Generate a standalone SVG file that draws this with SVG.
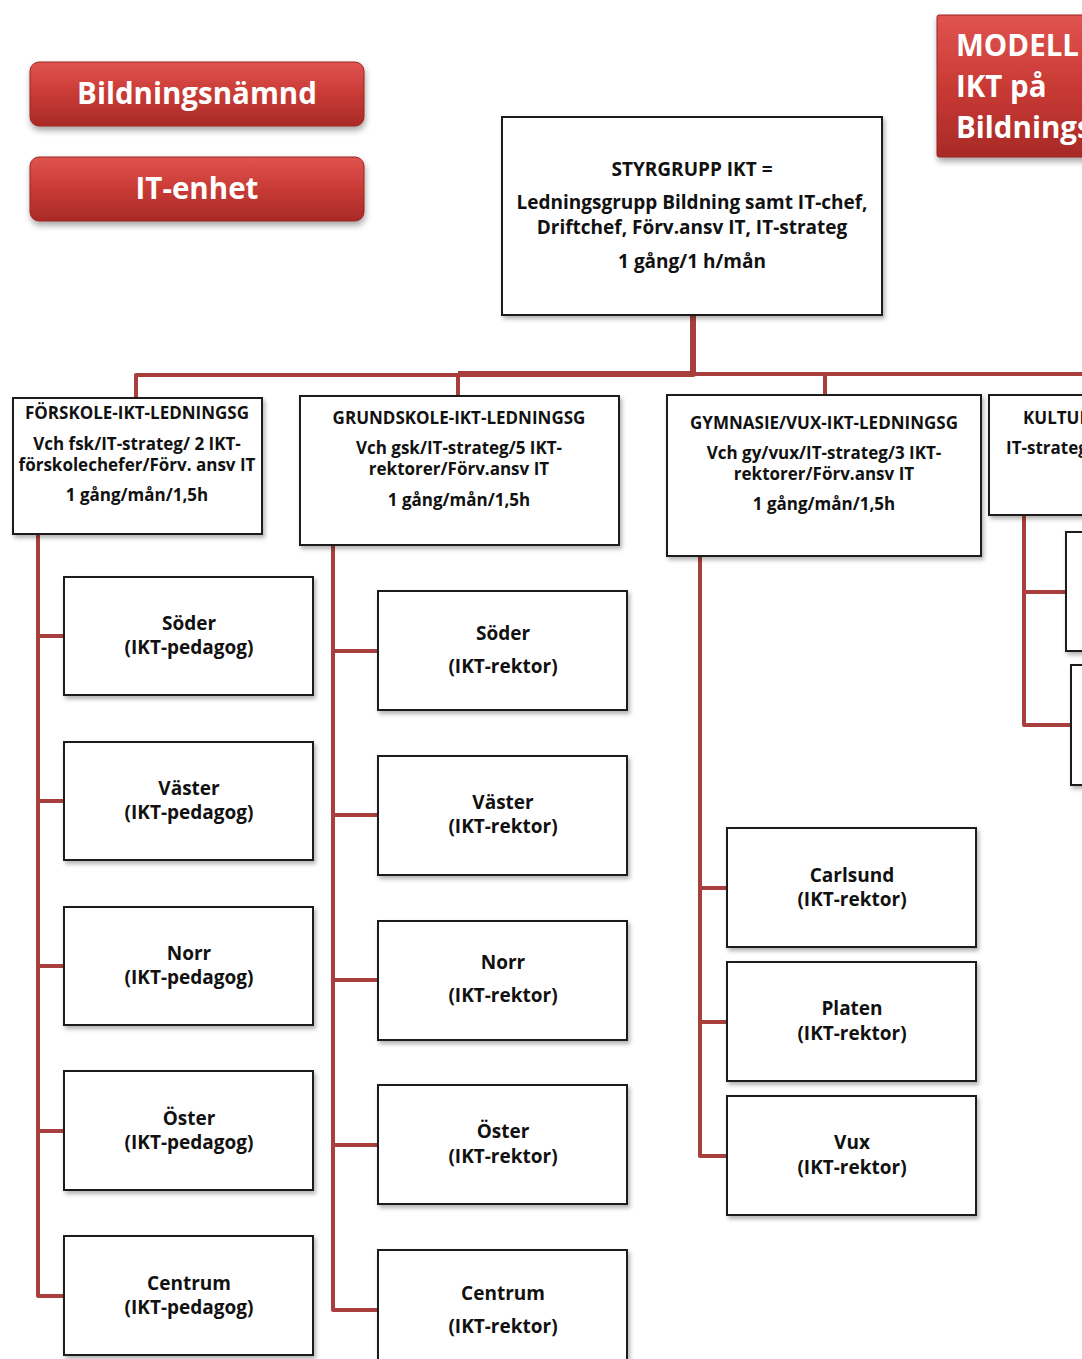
<svg xmlns="http://www.w3.org/2000/svg" width="1082" height="1359" viewBox="0 0 1082 1359">
<defs>
  <linearGradient id="redg" x1="0" y1="0" x2="0" y2="1">
    <stop offset="0" stop-color="#e0544f"/>
    <stop offset="0.5" stop-color="#c93a35"/>
    <stop offset="1" stop-color="#a82a27"/>
  </linearGradient>
  <filter id="sh" x="-10%" y="-10%" width="130%" height="130%">
    <feDropShadow dx="2" dy="3" stdDeviation="2" flood-color="#000" flood-opacity="0.3"/>
  </filter>
  <filter id="shb" x="-10%" y="-10%" width="130%" height="140%">
    <feDropShadow dx="1" dy="4" stdDeviation="3" flood-color="#000" flood-opacity="0.35"/>
  </filter>
</defs>
<style>
  .box { fill: #ffffff; stroke: #1e1e1e; stroke-width: 2; filter: url(#sh); }
  .red { fill: url(#redg); stroke: #9a2422; stroke-width: 1; filter: url(#shb); }
  .t { font-family: "Open Sans", Lato, "Liberation Sans", sans-serif; font-weight: 700; fill: #111; text-anchor: middle; }
  .st { text-anchor: start; }
  .h { font-size: 17px; }
  .s { font-size: 17px; }
  .m { font-size: 19px; }
  .w { font-family: "Open Sans", Lato, "Liberation Sans", sans-serif; font-weight: 700; fill: #ffffff; font-size: 29.5px; }
  .c { fill: none; stroke: #a83f3d; stroke-width: 4; stroke-linejoin: round; }
  .ct { fill: none; stroke: #a83f3d; stroke-width: 6; stroke-linejoin: round; }
</style>
<rect width="1082" height="1359" fill="#ffffff"/>

<g id="connectors">
  <path class="ct" d="M693,316 V374 H458"/>
  <path class="c" d="M458,375 H136 V398"/>
  <path class="c" d="M458,375 V396"/>
  <path class="c" d="M693,374 H1082"/>
  <path class="c" d="M825,374 V395"/>
  <path class="c" d="M38,534 V1296 H64 M38,636 H64 M38,801 H64 M38,966 H64 M38,1131 H64"/>
  <path class="c" d="M333,545 V1310 H378 M333,651 H378 M333,815 H378 M333,980 H378 M333,1145 H378"/>
  <path class="c" d="M700,556 V1156 H727 M700,888 H727 M700,1022 H727"/>
  <path class="c" d="M1024,515 V725 H1071 M1024,592 H1066"/>
</g>

<g id="bildningsnamnd">
  <rect class="red" x="30" y="62" width="334" height="64" rx="9"/>
  <text class="w" x="197" y="104" text-anchor="middle">Bildningsnämnd</text>
</g>
<g id="it-enhet">
  <rect class="red" x="30" y="157" width="334" height="64" rx="9"/>
  <text class="w" x="197" y="199" text-anchor="middle">IT-enhet</text>
</g>
<g id="modell">
  <rect class="red" x="937" y="15" width="160" height="142" rx="2"/>
  <text class="w" x="956" y="56">MODELL</text>
  <text class="w" x="956" y="97">IKT på</text>
  <text class="w" x="956" y="138">Bildnings</text>
</g>

<g id="styrgrupp">
  <rect class="box" x="502" y="117" width="380" height="198"/>
  <text class="t m" x="692" y="176">STYRGRUPP IKT =</text>
  <text class="t m" x="692" y="209">Ledningsgrupp Bildning samt IT-chef,</text>
  <text class="t m" x="692" y="234">Driftchef, Förv.ansv IT, IT-strateg</text>
  <text class="t m" x="692" y="268">1 gång/1 h/mån</text>
</g>

<g id="forskole">
  <rect class="box" x="13" y="398" width="249" height="136"/>
  <text class="t h" x="137" y="419">FÖRSKOLE-IKT-LEDNINGSG</text>
  <text class="t s" x="137" y="450">Vch fsk/IT-strateg/ 2 IKT-</text>
  <text class="t s" x="137" y="471">förskolechefer/Förv. ansv IT</text>
  <text class="t s" x="137" y="501">1 gång/mån/1,5h</text>
</g>
<g id="grundskole">
  <rect class="box" x="300" y="396" width="319" height="149"/>
  <text class="t h" x="459" y="424">GRUNDSKOLE-IKT-LEDNINGSG</text>
  <text class="t s" x="459" y="454">Vch gsk/IT-strateg/5 IKT-</text>
  <text class="t s" x="459" y="475">rektorer/Förv.ansv IT</text>
  <text class="t s" x="459" y="506">1 gång/mån/1,5h</text>
</g>
<g id="gymnasie">
  <rect class="box" x="667" y="395" width="314" height="161"/>
  <text class="t h" x="824" y="429">GYMNASIE/VUX-IKT-LEDNINGSG</text>
  <text class="t s" x="824" y="459">Vch gy/vux/IT-strateg/3 IKT-</text>
  <text class="t s" x="824" y="480">rektorer/Förv.ansv IT</text>
  <text class="t s" x="824" y="510">1 gång/mån/1,5h</text>
</g>
<g id="kultur">
  <rect class="box" x="989" y="395" width="120" height="120"/>
  <text class="t h st" x="1023" y="424">KULTUR</text>
  <text class="t s st" x="1006" y="454">IT-strateg</text>
</g>
<g id="kultur-1"><rect class="box" x="1066" y="532" width="60" height="119"/></g>
<g id="kultur-2"><rect class="box" x="1071" y="665" width="60" height="120"/></g>

<g id="fsk-soder"><rect class="box" x="64" y="577" width="249" height="118"/>
  <text class="t m" x="189" y="630">Söder</text><text class="t m" x="189" y="654">(IKT-pedagog)</text></g>
<g id="fsk-vaster"><rect class="box" x="64" y="742" width="249" height="118"/>
  <text class="t m" x="189" y="795">Väster</text><text class="t m" x="189" y="819">(IKT-pedagog)</text></g>
<g id="fsk-norr"><rect class="box" x="64" y="907" width="249" height="118"/>
  <text class="t m" x="189" y="960">Norr</text><text class="t m" x="189" y="984">(IKT-pedagog)</text></g>
<g id="fsk-oster"><rect class="box" x="64" y="1071" width="249" height="119"/>
  <text class="t m" x="189" y="1125">Öster</text><text class="t m" x="189" y="1149">(IKT-pedagog)</text></g>
<g id="fsk-centrum"><rect class="box" x="64" y="1236" width="249" height="119"/>
  <text class="t m" x="189" y="1290">Centrum</text><text class="t m" x="189" y="1314">(IKT-pedagog)</text></g>

<g id="gsk-soder"><rect class="box" x="378" y="591" width="249" height="119"/>
  <text class="t m" x="503" y="640">Söder</text><text class="t m" x="503" y="673">(IKT-rektor)</text></g>
<g id="gsk-vaster"><rect class="box" x="378" y="756" width="249" height="119"/>
  <text class="t m" x="503" y="809">Väster</text><text class="t m" x="503" y="833">(IKT-rektor)</text></g>
<g id="gsk-norr"><rect class="box" x="378" y="921" width="249" height="119"/>
  <text class="t m" x="503" y="969">Norr</text><text class="t m" x="503" y="1002">(IKT-rektor)</text></g>
<g id="gsk-oster"><rect class="box" x="378" y="1085" width="249" height="119"/>
  <text class="t m" x="503" y="1138">Öster</text><text class="t m" x="503" y="1163">(IKT-rektor)</text></g>
<g id="gsk-centrum"><rect class="box" x="378" y="1250" width="249" height="119"/>
  <text class="t m" x="503" y="1300">Centrum</text><text class="t m" x="503" y="1333">(IKT-rektor)</text></g>

<g id="gy-carlsund"><rect class="box" x="727" y="828" width="249" height="119"/>
  <text class="t m" x="852" y="882">Carlsund</text><text class="t m" x="852" y="906">(IKT-rektor)</text></g>
<g id="gy-platen"><rect class="box" x="727" y="962" width="249" height="119"/>
  <text class="t m" x="852" y="1015">Platen</text><text class="t m" x="852" y="1040">(IKT-rektor)</text></g>
<g id="gy-vux"><rect class="box" x="727" y="1096" width="249" height="119"/>
  <text class="t m" x="852" y="1149">Vux</text><text class="t m" x="852" y="1174">(IKT-rektor)</text></g>
</svg>
